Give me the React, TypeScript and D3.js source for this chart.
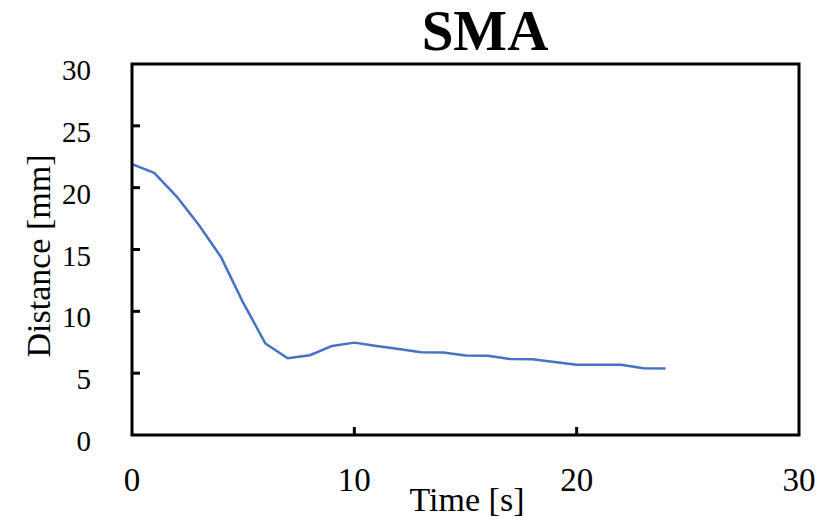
import React from 'react';
import * as d3 from 'd3';

const times = [0, 1, 2, 3, 4, 5, 6, 7, 8, 9, 10, 11, 12, 13, 14, 15, 16, 17, 18, 19, 20, 21, 22, 23, 24];
const distances = [21.9, 21.2, 19.3, 17.0, 14.4, 10.7, 7.4, 6.2, 6.45, 7.2, 7.47, 7.2, 6.95, 6.7, 6.68, 6.42, 6.4, 6.15, 6.12, 5.9, 5.68, 5.68, 5.68, 5.4, 5.38];
const xTicks = [0, 10, 20, 30];
const yTicks = [0, 5, 10, 15, 20, 25, 30];

const width = 834;
const height = 529;
const margin = { top: 64, right: 35, bottom: 94, left: 132 };

export default function App() {
  const x = d3.scaleLinear().domain([0, 30]).range([margin.left, width - margin.right]);
  const y = d3.scaleLinear().domain([0, 30]).range([height - margin.bottom, margin.top]);

  const line = d3.line<number>()
    .x((d, i) => x(times[i]))
    .y(d => y(d));

  const font = '"Liberation Serif", "Times New Roman", serif';
  const x0 = x(0), x1 = x(30), y0 = y(0), y1 = y(30);

  return (
    <svg width={width} height={height} style={{ position: 'absolute', left: 0, top: 0, background: '#fff' }}>
      <text x={485} y={50} textAnchor="middle" fontFamily={font} fontWeight="bold" fontSize={57}>SMA</text>

      {/* inner ticks */}
      {yTicks.slice(1, -1).map(t => (
        <line key={'yt' + t} x1={x0} x2={x0 + 8} y1={y(t)} y2={y(t)} stroke="#000" strokeWidth={3} />
      ))}
      {xTicks.slice(1, -1).map(t => (
        <line key={'xt' + t} x1={x(t)} x2={x(t)} y1={y0} y2={y0 - 8} stroke="#000" strokeWidth={3} />
      ))}

      <path d={line(distances) || ''} fill="none" stroke="#4472C4" strokeWidth={2.5} strokeLinejoin="round" />

      <rect x={x0} y={y1} width={x1 - x0} height={y0 - y1} fill="none" stroke="#000" strokeWidth={3} />

      {yTicks.map(t => (
        <text key={'yl' + t} x={91} y={y(t) + 16} textAnchor="end" fontFamily={font} fontSize={29}>{t}</text>
      ))}
      {xTicks.map(t => (
        <text key={'xl' + t} x={x(t)} y={491} textAnchor="middle" fontFamily={font} fontSize={33}>{t}</text>
      ))}

      <text x={467} y={511} textAnchor="middle" fontFamily={font} fontSize={34}>Time [s]</text>
      <text transform={`translate(50,256) rotate(-90)`} textAnchor="middle" fontFamily={font} fontSize={34}>Distance [mm]</text>
    </svg>
  );
}
